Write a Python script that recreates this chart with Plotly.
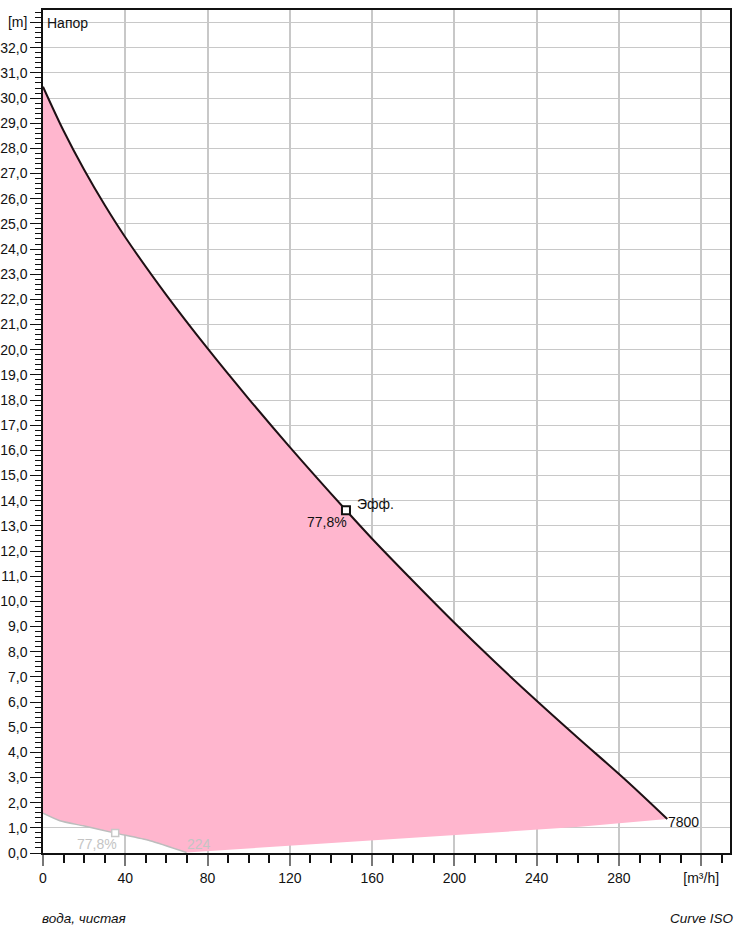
import plotly.graph_objects as go

# Head curve (Q [m³/h], H [m])
head_q = [0, 10, 20, 30, 40, 60, 80, 100, 120, 147.3, 160, 180, 200, 220, 240, 260, 283, 303.5]
head_h = [30.45, 28.7, 27.15, 25.75, 24.47, 22.17, 20.05, 18.05, 16.13, 13.62, 12.49, 10.8, 9.15, 7.57, 6.05, 4.58, 2.92, 1.35]

# Lower (grey) curve
low_q = [0, 8.2, 19.6, 35.1, 52, 69.8]
low_h = [1.58, 1.28, 1.08, 0.79, 0.49, 0.02]

# Lower edge of the pink area beyond the grey curve
edge_q = [69.8, 163.8, 261, 303.5]
edge_h = [0.02, 0.53, 1.04, 1.35]

# Duty point
duty_q = [147.3]
duty_h = [13.62]
low_pt_q = [35.1]
low_pt_h = [0.79]

x_ticks = [0, 40, 80, 120, 160, 200, 240, 280, 320]
x_labels = ["0", "40", "80", "120", "160", "200", "240", "280", "[m³/h]"]
y_ticks = list(range(0, 34))
y_labels = [f"{v},0" for v in range(0, 33)] + ["[m]"]

PINK = "#FFB6CE"
FONT = "Liberation Sans, Arial, sans-serif"

fig = go.Figure()

fig.add_trace(go.Scatter(
    x=low_q + edge_q[1:], y=low_h + edge_h[1:], mode="lines",
    line=dict(width=0, shape="linear", color=PINK),
    hoverinfo="skip", showlegend=False))
fig.add_trace(go.Scatter(
    x=head_q, y=head_h, mode="lines", fill="tonexty", fillcolor=PINK,
    line=dict(width=0, shape="spline", smoothing=1.0, color=PINK),
    hoverinfo="skip", showlegend=False))

fig.add_trace(go.Scatter(
    x=low_q, y=low_h, mode="lines",
    line=dict(width=1.5, shape="spline", smoothing=0.6, color="#bdbdbd"),
    hoverinfo="skip", showlegend=False))
fig.add_trace(go.Scatter(
    x=head_q, y=head_h, mode="lines",
    line=dict(width=2, shape="spline", smoothing=1.0, color="#1e1014"),
    hoverinfo="skip", showlegend=False))

fig.add_trace(go.Scatter(
    x=low_pt_q, y=low_pt_h, mode="markers",
    marker=dict(symbol="square", size=7, color="white", line=dict(color="#c8c8c8", width=1.5)),
    hoverinfo="skip", showlegend=False))
fig.add_trace(go.Scatter(
    x=duty_q, y=duty_h, mode="markers",
    marker=dict(symbol="square", size=8, color="white", line=dict(color="#111111", width=2)),
    hoverinfo="skip", showlegend=False))

ann = [
    dict(x=1.2, y=33, text="Напор", xanchor="left", yanchor="middle", font=dict(size=14)),
    dict(x=151.5, y=13.86, text="Эфф.", xanchor="left", yanchor="middle", font=dict(size=14)),
    dict(x=149, y=13.15, text="77,8%", xanchor="right", yanchor="middle", font=dict(size=14)),
    dict(x=303, y=1.25, text="7800", xanchor="left", yanchor="middle", font=dict(size=14)),
    dict(x=26.3, y=0.36, text="77,8%", xanchor="center", yanchor="middle", font=dict(size=14, color="#c4c4c4")),
    dict(x=76, y=0.36, text="224", xanchor="center", yanchor="middle", font=dict(size=14, color="#c4c4c4")),
]
for a in ann:
    a.update(xref="x", yref="y", showarrow=False)
    a["font"].setdefault("color", "#111111")
    a["font"]["family"] = FONT
    fig.add_annotation(**a)

fig.add_annotation(x=-0.004, y=-0.078, xref="paper", yref="paper", text="<i>вода, чистая</i>",
                   xanchor="left", yanchor="middle", showarrow=False,
                   font=dict(size=13.5, color="#111111", family=FONT))
fig.add_annotation(x=1.009, y=-0.078, xref="paper", yref="paper", text="<i>Curve ISO</i>",
                   xanchor="right", yanchor="middle", showarrow=False,
                   font=dict(size=13.5, color="#111111", family=FONT))

fig.update_layout(
    width=738, height=929,
    margin=dict(l=43, r=8, t=10, b=76, autoexpand=False),
    paper_bgcolor="white", plot_bgcolor="white",
    font=dict(family=FONT, size=14, color="#111111"),
    xaxis=dict(
        range=[0, 334], tickmode="array", tickvals=x_ticks, ticktext=x_labels,
        showgrid=True, gridcolor="#c8c8c8", gridwidth=1.5,
        ticks="outside", ticklen=11, tickwidth=2, tickcolor="#777777",
        minor=dict(tickmode="linear", tick0=0, dtick=10, ticks="outside", ticklen=8,
                   tickcolor="#111111", tickwidth=1.5, showgrid=False),
        showline=True, linecolor="#111111", linewidth=2, mirror=True,
        zeroline=False, layer="above traces", tickfont=dict(size=14),
        automargin=False,
    ),
    yaxis=dict(
        range=[0, 33.5], tickmode="array", tickvals=y_ticks, ticktext=y_labels,
        showgrid=True, gridcolor="#c8c8c8", gridwidth=1.2,
        ticks="outside", ticklen=11, tickwidth=1.2, tickcolor="#111111",
        minor=dict(tickmode="linear", tick0=0, dtick=0.2, ticks="outside", ticklen=6,
                   tickcolor="#111111", tickwidth=1, showgrid=False),
        showline=True, linecolor="#111111", linewidth=1.5, mirror=True,
        zeroline=False, layer="above traces", tickfont=dict(size=14),
        automargin=False, ticklabelstandoff=0,
    ),
)

fig.write_html("out.html", config={"displayModeBar": False},
               post_script="document.body.style.margin='0';")
